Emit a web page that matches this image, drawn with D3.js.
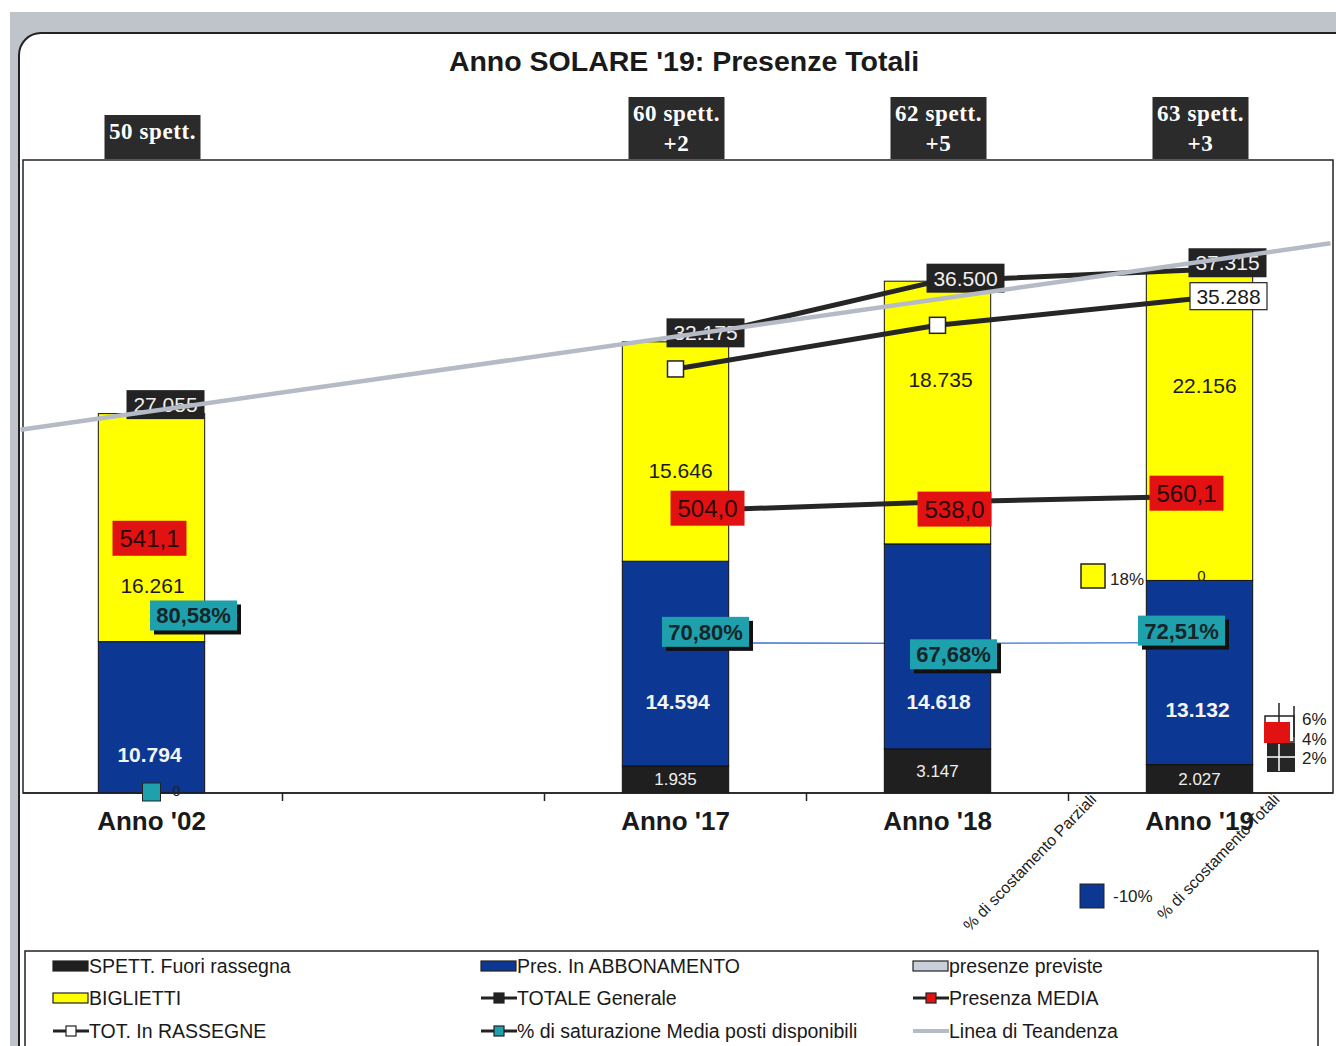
<!DOCTYPE html>
<html><head><meta charset="utf-8">
<script src="https://cdn.jsdelivr.net/npm/d3@7"></script>
<style>
html,body{margin:0;padding:0;background:#fff;}
svg{display:block;font-family:"Liberation Sans",Arial,sans-serif;}
</style></head><body>
<svg id="chart" width="1336" height="1046"></svg>
<script>
// ---- data ----
const categories = ["Anno '02", "", "Anno '17", "Anno '18", "Anno '19"];
const fuoriRassegna = [0, null, 1935, 3147, 2027];
const abbonamento = [10794, null, 14594, 14618, 13132];
const biglietti = [16261, null, 15646, 18735, 22156];
const presenzePreviste = [null, null, null, null, 0];
const totaleGenerale = [27055, null, 32175, 36500, 37315];
const totInRassegne = [null, null, 30240, 33353, 35288];
const presenzaMedia = [541.1, null, 504.0, 538.0, 560.1];
const saturazione = [80.58, null, 70.80, 67.68, 72.51];
const spettacoli = ["50 spett.", null, "60 spett.", "62 spett.", "63 spett."];
const spettDelta = [null, null, "+2", "+5", "+3"];
const trendEnds = [25900, 39200];
const scostParziali = ["18%", "-10%"];
const scostTotali = ["6%", "4%", "2%"];
const chartTitle = "Anno SOLARE '19: Presenze Totali";
const legendRows = [
  ["SPETT. Fuori rassegna", "Pres. In ABBONAMENTO", "presenze previste"],
  ["BIGLIETTI", "TOTALE Generale", "Presenza MEDIA"],
  ["TOT. In RASSEGNE", "% di saturazione Media posti disponibili", "Linea di Teandenza"]
];

// ---- styling ----
const C = {
  black: "#1f1f1f", blue: "#0c3893", yellow: "#ffff00", red: "#e21212",
  teal: "#1fa0ad", trend: "#b4bbc6", previste: "#c9d0dc", line: "#262626", satLine: "#3a72d0"
};

const it = d3.formatLocale({decimal: ",", thousands: ".", grouping: [3], currency: ["€", ""]});
const fInt = it.format(",d"), fDec = it.format(".1f"), fPct = v => it.format(".2f")(v) + "%";

const svg = d3.select("#chart");

// page background and rounded frame
svg.append("rect").attr("x", 10).attr("y", 12).attr("width", 1340).attr("height", 1040).attr("fill", "#bec4ca");
svg.append("rect").attr("x", 19).attr("y", 33).attr("width", 1340).attr("height", 1060)
  .attr("rx", 22).attr("fill", "#fff").attr("stroke", "#222").attr("stroke-width", 2);

// scales
const x = d3.scaleBand().domain(categories).range([20.5, 1330.5]).paddingInner(0.594).paddingOuter(0.297);
const cx = c => x(c) + x.bandwidth() / 2;
const y = d3.scaleLinear().domain([0, 45000]).range([793, 162]);
const yMedia = d3.scaleLinear().domain([-550, 1810]).range([793, 162]);
const ySat = d3.scaleLinear().domain([-1000, 3500]).range([793, 162]);

// label placement around each point (dx, dy)
const place = {
  totale: [[14, -9], null, [30, -9], [28, -3], [28, -7]],
  rassegne: [null, null, null, null, [29, -2]],
  media: [[-2, 37], null, [32, -3], [17, 7], [-13, -3]],
  sat: [[42, -26], null, [30, -11], [16, 11], [-18, -12]],
  abb: [[-2, 38], null, [2, 38], [1, 56], [-2, 37]],
  big: [[1, 58], null, [5, 19], [3, -33], [5, -39]]
};

// title
svg.append("text").attr("x", 684).attr("y", 71).attr("text-anchor", "middle")
  .attr("font-size", 28.5).attr("font-weight", "bold").attr("fill", "#1a1a1a").text(chartTitle);

// plot frame
svg.append("rect").attr("x", 23).attr("y", 160).attr("width", 1310).attr("height", 633)
  .attr("fill", "none").attr("stroke", "#222").attr("stroke-width", 1.5);

// header boxes (number of shows)
categories.forEach((c, i) => {
  if (!spettacoli[i]) return;
  const two = !!spettDelta[i];
  const top = two ? 97 : 115;
  const g = svg.append("g");
  g.append("rect").attr("x", cx(c) - 47).attr("y", top).attr("width", 96).attr("height", 159 - top).attr("fill", "#2b2b2b");
  const t = g.append("text").attr("text-anchor", "middle").attr("fill", "#fff")
    .attr("font-family", "'Liberation Serif','DejaVu Serif',serif").attr("font-weight", "bold")
    .attr("font-size", 23).attr("letter-spacing", 0.6);
  t.append("tspan").attr("x", cx(c) + 1).attr("y", two ? 121 : 139).text(spettacoli[i]);
  if (two) t.append("tspan").attr("x", cx(c) + 1).attr("y", 151).text(spettDelta[i]);
});

// saturation line (behind bars)
const satPts = categories.map((c, i) => saturazione[i] == null ? null : [cx(c), ySat(saturazione[i])]);
const lineGen = d3.line().defined(d => d != null);
svg.append("path").attr("d", lineGen(satPts.map((p, i) => i === 0 ? null : p)))
  .attr("fill", "none").attr("stroke", C.satLine).attr("stroke-width", 1.3);

// stacked bars
const rows = categories.map((c, i) => ({cat: c, fuori: fuoriRassegna[i] || 0, abb: abbonamento[i] || 0, big: biglietti[i] || 0, idx: i}))
  .filter(d => abbonamento[d.idx] != null);
const keys = ["fuori", "abb", "big"];
const fills = {fuori: C.black, abb: C.blue, big: C.yellow};
const stacked = d3.stack().keys(keys)(rows);
stacked.forEach(layer => {
  svg.append("g").selectAll("rect").data(layer).join("rect")
    .attr("x", d => x(d.data.cat)).attr("width", x.bandwidth())
    .attr("y", d => y(d[1])).attr("height", d => y(d[0]) - y(d[1]))
    .attr("fill", fills[layer.key]).attr("stroke", "#111").attr("stroke-width", 1);
});

// x axis
const axisG = svg.append("g").attr("transform", "translate(0,793)");
axisG.append("line").attr("x1", 23).attr("x2", 1333).attr("stroke", "#222").attr("stroke-width", 1.5);
x.domain().forEach((c, i) => {
  if (i === 0) return;
  const bx = x(c) - x.step() * x.paddingInner() / 2;
  axisG.append("line").attr("x1", bx).attr("x2", bx).attr("y1", 0).attr("y2", 8).attr("stroke", "#222").attr("stroke-width", 1.5);
});
categories.forEach(c => {
  if (!c) return;
  svg.append("text").attr("x", cx(c)).attr("y", 830).attr("text-anchor", "middle")
    .attr("font-size", 26).attr("font-weight", "bold").attr("fill", "#1a1a1a").text(c);
});

// segment labels
stacked.forEach(layer => {
  layer.forEach(d => {
    const i = d.data.idx, v = d.data[layer.key];
    if (!v) return;
    const mid = (y(d[0]) + y(d[1])) / 2;
    if (layer.key === "fuori") {
      svg.append("text").attr("x", cx(d.data.cat)).attr("y", mid + 6).attr("text-anchor", "middle")
        .attr("font-size", 17).attr("fill", "#eee").text(fInt(v));
    } else if (layer.key === "abb") {
      const [dx, dy] = place.abb[i];
      svg.append("text").attr("x", cx(d.data.cat) + dx).attr("y", mid + dy + 7).attr("text-anchor", "middle")
        .attr("font-size", 21).attr("font-weight", "bold").attr("fill", "#f4f4f4").text(fInt(v));
    } else {
      const [dx, dy] = place.big[i];
      svg.append("text").attr("x", cx(d.data.cat) + dx).attr("y", mid + dy + 7).attr("text-anchor", "middle")
        .attr("font-size", 21).attr("fill", "#1a1a1a").text(fInt(v));
    }
  });
});

// zero-valued entries
svg.append("rect").attr("x", cx(categories[0]) - 9).attr("y", y(0) - 10).attr("width", 18).attr("height", 18)
  .attr("fill", C.teal).attr("stroke", "#222").attr("stroke-width", 1);
svg.append("text").attr("x", cx(categories[0]) + 25).attr("y", y(0) + 3).attr("text-anchor", "middle")
  .attr("font-size", 15).attr("fill", "#222").text(fInt(fuoriRassegna[0]));
categories.forEach((c, i) => {
  if (presenzePreviste[i] == null) return;
  const top = y((fuoriRassegna[i] || 0) + abbonamento[i]);
  svg.append("text").attr("x", cx(c) + 2).attr("y", top + 1).attr("text-anchor", "middle")
    .attr("font-size", 15).attr("fill", "#222").text(fInt(presenzePreviste[i]));
});

// lines: totale, rassegne, media
const pts = (arr, sc) => categories.map((c, i) => arr[i] == null ? null : [cx(c), sc(arr[i])]);
const totPts = pts(totaleGenerale, y), rasPts = pts(totInRassegne, y), medPts = pts(presenzaMedia, yMedia);
[totPts, rasPts, medPts].forEach(p => {
  svg.append("path").attr("d", lineGen(p.map((q, i) => i === 0 ? null : q)))
    .attr("fill", "none").attr("stroke", C.line).attr("stroke-width", 5).attr("stroke-linejoin", "round");
});
rasPts.forEach((p, i) => {
  if (!p) return;
  svg.append("rect").attr("x", p[0] - 8).attr("y", p[1] - 8).attr("width", 16).attr("height", 16)
    .attr("fill", "#fff").attr("stroke", "#222").attr("stroke-width", 1.5);
});

// boxed labels
function boxLabel(px, py, w, h, text, o) {
  const g = svg.append("g");
  if (o.shadow) g.append("rect").attr("x", px - w / 2 + 4).attr("y", py - h / 2 + 4).attr("width", w).attr("height", h).attr("fill", "#111");
  g.append("rect").attr("x", px - w / 2).attr("y", py - h / 2).attr("width", w).attr("height", h)
    .attr("fill", o.fill).attr("stroke", o.stroke || "none").attr("stroke-width", 1.2);
  g.append("text").attr("x", px).attr("y", py + o.size * 0.36).attr("text-anchor", "middle")
    .attr("font-size", o.size).attr("font-weight", o.bold ? "bold" : "normal").attr("fill", o.color).text(text);
}
totPts.forEach((p, i) => {
  if (!p) return;
  const [dx, dy] = place.totale[i];
  boxLabel(p[0] + dx, p[1] + dy, 78, 29, fInt(totaleGenerale[i]), {fill: "#232323", color: "#f0f0f0", size: 21});
});
categories.forEach((c, i) => {
  if (!place.rassegne[i]) return;
  const [dx, dy] = place.rassegne[i];
  boxLabel(cx(c) + dx, y(totInRassegne[i]) + dy, 77, 27, fInt(totInRassegne[i]), {fill: "#fff", stroke: "#222", color: "#1a1a1a", size: 21});
});
medPts.forEach((p, i) => {
  if (!p) return;
  const [dx, dy] = place.media[i];
  boxLabel(p[0] + dx, p[1] + dy, 74, 35, fDec(presenzaMedia[i]), {fill: C.red, color: "#2a0707", size: 24});
});
satPts.forEach((p, i) => {
  if (!p) return;
  const [dx, dy] = place.sat[i];
  boxLabel(p[0] + dx, p[1] + dy, 87, 30, fPct(saturazione[i]), {fill: C.teal, color: "#14262a", size: 22, bold: true, shadow: true});
});

// trend line
svg.append("line")
  .attr("x1", x.range()[0]).attr("y1", y(trendEnds[0]))
  .attr("x2", x.range()[1]).attr("y2", y(trendEnds[1]))
  .attr("stroke", C.trend).attr("stroke-width", 4.5);

// deviation keys
svg.append("rect").attr("x", 1081).attr("y", 564).attr("width", 24).attr("height", 24).attr("fill", C.yellow).attr("stroke", "#222").attr("stroke-width", 1.5);
svg.append("text").attr("x", 1110).attr("y", 585).attr("font-size", 17).attr("fill", "#222").text(scostParziali[0]);
svg.append("rect").attr("x", 1080).attr("y", 884).attr("width", 24).attr("height", 24).attr("fill", C.blue).attr("stroke", "#222").attr("stroke-width", 1);
svg.append("text").attr("x", 1113).attr("y", 902).attr("font-size", 17).attr("fill", "#222").text(scostParziali[1]);

const key = svg.append("g");
key.append("rect").attr("x", 1265).attr("y", 716).attr("width", 29).attr("height", 26).attr("fill", "none").attr("stroke", "#222").attr("stroke-width", 1.5);
key.append("line").attr("x1", 1279).attr("x2", 1279).attr("y1", 703).attr("y2", 740).attr("stroke", "#222").attr("stroke-width", 1.5);
key.append("line").attr("x1", 1294).attr("x2", 1294).attr("y1", 706).attr("y2", 737).attr("stroke", "#222").attr("stroke-width", 1.5);
key.append("rect").attr("x", 1264).attr("y", 722).attr("width", 26).attr("height", 21).attr("fill", C.red);
key.append("rect").attr("x", 1267).attr("y", 743).attr("width", 28).attr("height", 29).attr("fill", "#262626");
key.append("line").attr("x1", 1279).attr("x2", 1279).attr("y1", 744).attr("y2", 771).attr("stroke", "#fff").attr("stroke-width", 1.5);
key.append("line").attr("x1", 1267).attr("x2", 1295).attr("y1", 757).attr("y2", 757).attr("stroke", "#fff").attr("stroke-width", 1.5);
scostTotali.forEach((t, i) => {
  key.append("text").attr("x", 1302).attr("y", 725 + i * 19.5).attr("font-size", 17).attr("fill", "#222").text(t);
});

svg.append("text").attr("transform", "translate(970,932) rotate(-46)").attr("font-size", 16).attr("fill", "#222").text("% di scostamento Parziali");
svg.append("text").attr("transform", "translate(1164,921) rotate(-46)").attr("font-size", 16).attr("fill", "#222").text("% di scostamento Totali");

// legend
svg.append("rect").attr("x", 25).attr("y", 951).attr("width", 1293).attr("height", 120)
  .attr("fill", "#fff").attr("stroke", "#222").attr("stroke-width", 1.5);
const colX = [53, 481, 913], rowY = [966, 998, 1031];
const swatch = {
  "SPETT. Fuori rassegna": {bar: C.black},
  "Pres. In ABBONAMENTO": {bar: C.blue},
  "presenze previste": {bar: C.previste},
  "BIGLIETTI": {bar: C.yellow},
  "TOTALE Generale": {marker: "#222"},
  "Presenza MEDIA": {marker: C.red},
  "TOT. In RASSEGNE": {marker: "#fff"},
  "% di saturazione Media posti disponibili": {marker: C.teal},
  "Linea di Teandenza": {trend: true}
};
legendRows.forEach((row, r) => row.forEach((label, c) => {
  const lx = colX[c], ly = rowY[r], s = swatch[label];
  const g = svg.append("g");
  if (s.bar) {
    g.append("rect").attr("x", lx).attr("y", ly - 5).attr("width", 35).attr("height", 10)
      .attr("fill", s.bar).attr("stroke", "#222").attr("stroke-width", 1.2);
  } else if (s.trend) {
    g.append("line").attr("x1", lx).attr("x2", lx + 36).attr("y1", ly).attr("y2", ly).attr("stroke", C.trend).attr("stroke-width", 4);
  } else {
    g.append("line").attr("x1", lx).attr("x2", lx + 36).attr("y1", ly).attr("y2", ly).attr("stroke", "#222").attr("stroke-width", 3);
    g.append("rect").attr("x", lx + 13).attr("y", ly - 5).attr("width", 10).attr("height", 10)
      .attr("fill", s.marker).attr("stroke", "#222").attr("stroke-width", 1.2);
  }
  g.append("text").attr("x", lx + 36).attr("y", ly + 7).attr("font-size", 19.5).attr("fill", "#1a1a1a").text(label);
}));
</script>
</body></html>
